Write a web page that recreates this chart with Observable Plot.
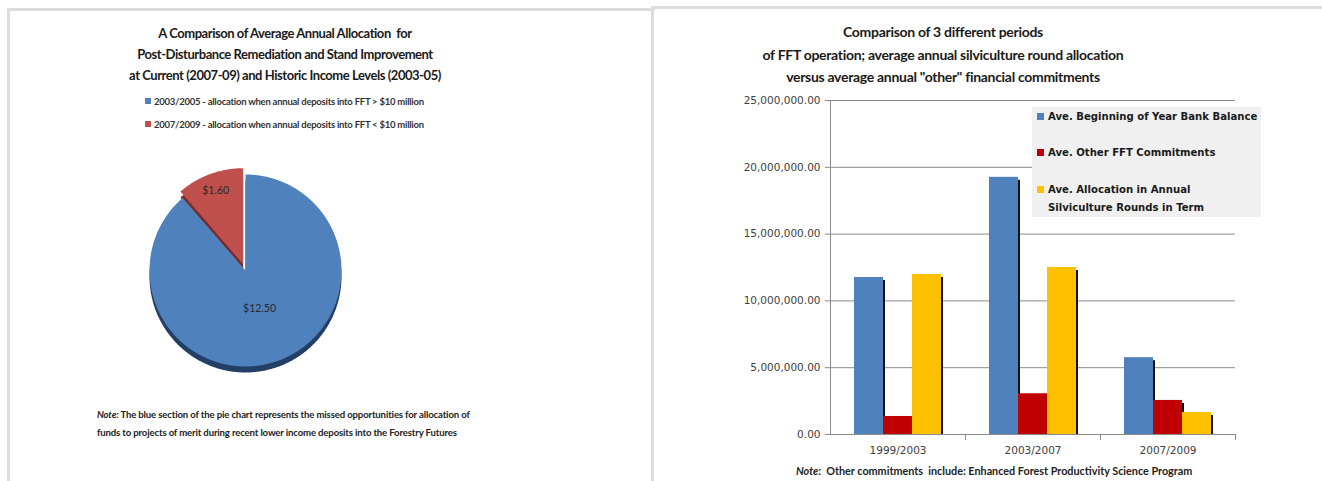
<!DOCTYPE html>
<html><head><meta charset="utf-8">
<script src="https://cdn.jsdelivr.net/npm/d3@7"></script>
<script src="https://cdn.jsdelivr.net/npm/@observablehq/plot@0.6"></script>
<style>
body{margin:0;background:#fff;width:1322px;height:481px;overflow:hidden;position:relative;font-family:Lato,"Open Sans",sans-serif;color:#222;}
.abs{position:absolute;}
#lp{left:7px;top:8px;width:645px;height:480px;border-left:3px solid #dcdcdc;border-top:3px solid #dcdcdc;}
#rp{left:651px;top:6px;width:680px;height:480px;border-left:3px solid #dcdcdc;border-top:3px solid #dcdcdc;}
.title{font-weight:bold;text-align:center;color:#1a1a1a;white-space:pre;}
.lleg{font-size:9.5px;letter-spacing:-0.25px;font-weight:bold;color:#333;white-space:pre;line-height:12px;}
.sw{display:inline-block;width:6px;height:6px;margin-right:3px;vertical-align:1px;}
.note{font-weight:bold;color:#222;white-space:pre;line-height:18px;}
.ln{font-size:9.6px;letter-spacing:-0.15px;}
#rleg{left:1032px;top:107px;width:229px;height:110px;background:#f0f0f0;font-family:"DejaVu Sans",sans-serif;font-weight:bold;font-size:10.1px;color:#1a1a1a;}
#rleg .it{position:absolute;left:5px;white-space:nowrap;line-height:18px;}
#rleg .sq{display:inline-block;width:7px;height:7px;margin-right:4px;vertical-align:0px;}
#bar svg g[aria-label="y-axis tick label"] text, #bar svg g[aria-label="fx-axis tick label"] text{fill:#404040;}
</style></head>
<body>
<div id="lp" class="abs"></div>
<div id="rp" class="abs"></div>
<div id="ltitle" class="abs title" style="left:85px;top:23px;width:400px;font-size:13px;letter-spacing:-0.45px;line-height:21px;"></div>
<div id="lleg" class="abs"></div>
<div id="pie" class="abs" style="left:125px;top:150px;"></div>
<div id="lnote1" class="abs note ln" style="left:97px;top:406px;"></div>
<div id="lnote2" class="abs note ln" style="left:97px;top:424px;"></div>
<div id="rtitle" class="abs title" style="left:743px;top:21px;width:400px;font-size:14px;letter-spacing:-0.3px;line-height:22.5px;"></div>
<div id="bar" class="abs" style="left:700px;top:90px;"></div>
<div id="rleg" class="abs"></div>
<div id="rnote" class="abs note" style="left:796px;top:462px;font-size:10.8px;"></div>
<script>
// ---- Data ----
const leftTitleLines = ["A Comparison of Average Annual Allocation  for", "Post-Disturbance Remediation and Stand Improvement", "at Current (2007-09) and Historic Income Levels (2003-05)"];
const pieLabels = ["2003/2005 - allocation when annual deposits into FFT > $10 million", "2007/2009 - allocation when annual deposits into FFT < $10 million"];
const pieValues = [12.5, 1.6];
const pieValueLabels = ["$12.50", "$1.60"];
const pieColors = ["#4f81bd", "#c0504d"];
const pieShadowColors = ["#243f66", "#7a2a28"];
const leftNoteLines = ["The blue section of the pie chart represents the missed opportunities for allocation of", "funds to projects of merit during recent lower income deposits into the Forestry Futures"];

const rightTitleLines = ["Comparison of 3 different periods", "of FFT operation; average annual silviculture round allocation", "versus average annual \"other\" financial commitments"];
const periods = ["1999/2003", "2003/2007", "2007/2009"];
const seriesNames = ["Ave. Beginning of Year Bank Balance", "Ave. Other FFT Commitments", "Ave. Allocation in Annual Silviculture Rounds in Term"];
const legendLines = [["Ave. Beginning of Year Bank Balance"], ["Ave. Other FFT Commitments"], ["Ave. Allocation in Annual", "Silviculture Rounds in Term"]];
const bankBalance = [11750000, 19250000, 5750000];
const otherCommitments = [1350000, 3050000, 2550000];
const silvicultureAllocation = [11980000, 12500000, 1650000];
const seriesColors = ["#4f81bd", "#c00000", "#ffc000"];
const yTicks = [0, 5000000, 10000000, 15000000, 20000000, 25000000];
const rightNote = "Other commitments  include: Enhanced Forest Productivity Science Program";

const esc = s => s.replace(/&/g, "&amp;").replace(/</g, "&lt;").replace(/>/g, "&gt;");

// ---- Left panel ----
document.getElementById("ltitle").innerHTML = leftTitleLines.map(esc).join("\n");
document.getElementById("lleg").innerHTML = pieLabels.map((t, i) =>
  `<div class="abs lleg" style="left:145px;top:${96 + i * 23}px"><span class="sw" style="background:${pieColors[i]}"></span>${esc(t)}</div>`).join("");
document.getElementById("lnote1").innerHTML = `<i>Note:</i> ${esc(leftNoteLines[0])}`;
document.getElementById("lnote2").textContent = leftNoteLines[1];

const arcs = d3.pie().sort(null)(pieValues);
const explode = [0, 0.07];
const labelR = [0.42, 0.82];
const slicePts = [], labelPts = [];
arcs.forEach((a, i) => {
  const mid = (a.startAngle + a.endAngle) / 2;
  const ox = explode[i] * Math.sin(mid), oy = explode[i] * Math.cos(mid);
  const pts = [{x: ox, y: oy}];
  const n = Math.ceil((a.endAngle - a.startAngle) / 0.01);
  for (let k = 0; k <= n; k++) {
    const t = a.startAngle + (a.endAngle - a.startAngle) * k / n;
    pts.push({x: ox + Math.sin(t), y: oy + Math.cos(t)});
  }
  pts.push({x: ox, y: oy});
  slicePts.push(pts);
  labelPts.push({x: ox + labelR[i] * Math.sin(mid), y: oy + labelR[i] * Math.cos(mid), text: pieValueLabels[i]});
});

const pieMarks = [];
slicePts.forEach((pts, i) => pieMarks.push(Plot.line(pts, {x: "x", y: "y", fill: pieShadowColors[i], stroke: "none", dy: 6})));
slicePts.forEach((pts, i) => pieMarks.push(Plot.line(pts, {x: "x", y: "y", fill: pieColors[i], stroke: "none"})));
pieMarks.push(Plot.text(labelPts, {x: "x", y: "y", text: "text", fill: "#2a2a2a", fontSize: 10.5}));

document.getElementById("pie").append(Plot.plot({
  width: 240, height: 240, margin: 0,
  x: {domain: [-1.25, 1.25], axis: null},
  y: {domain: [-1.25, 1.25], axis: null},
  style: {background: "transparent", fontFamily: "Lato, sans-serif"},
  marks: pieMarks
}));

// ---- Right panel ----
document.getElementById("rtitle").innerHTML = rightTitleLines.map(esc).join("\n");
const legTops = [1, 37, 74];
document.getElementById("rleg").innerHTML = legendLines.map((lines, i) =>
  `<div class="it" style="top:${legTops[i]}px"><span class="sq" style="background:${seriesColors[i]}"></span>${lines.map(esc).join('<br><span style="display:inline-block;width:11px"></span>')}</div>`).join("");
document.getElementById("rnote").innerHTML = `<i>Note</i>:  ${esc(rightNote)}`;

const seriesValues = [bankBalance, otherCommitments, silvicultureAllocation];
const barData = periods.flatMap((p, i) => seriesNames.map((s, j) => ({period: p, series: s, value: seriesValues[j][i]})));

document.getElementById("bar").append(Plot.plot({
  width: 560, height: 380,
  marginLeft: 129, marginRight: 24, marginTop: 10, marginBottom: 36,
  style: {background: "transparent", fontFamily: "DejaVu Sans, sans-serif", fontSize: "10.5px", color: "#8a8a8a"},
  fx: {domain: periods, padding: 0, label: null, axis: "bottom", tickSize: 0, tickPadding: 12},
  x: {domain: seriesNames, paddingInner: 0, paddingOuter: 0.76, axis: null},
  y: {domain: [0, 25000000], ticks: 5, tickFormat: d3.format(",.2f"), line: true, label: null, tickSize: 5, tickPadding: 5},
  color: {domain: seriesNames, range: seriesColors},
  marks: [
    Plot.gridY(yTicks, {stroke: "#8a8a8a", strokeOpacity: 1}),
    Plot.ruleY([0], {stroke: "#8a8a8a"}),
    Plot.frame({anchor: "right", stroke: "#8a8a8a", insetTop: 334, insetBottom: -5}),
    Plot.barY(barData, {fx: "period", x: "series", y: "value", fill: "#111", dx: 2, insetTop: 3}),
    Plot.barY(barData, {fx: "period", x: "series", y: "value", fill: "series"})
  ]
}));
</script>
</body></html>
